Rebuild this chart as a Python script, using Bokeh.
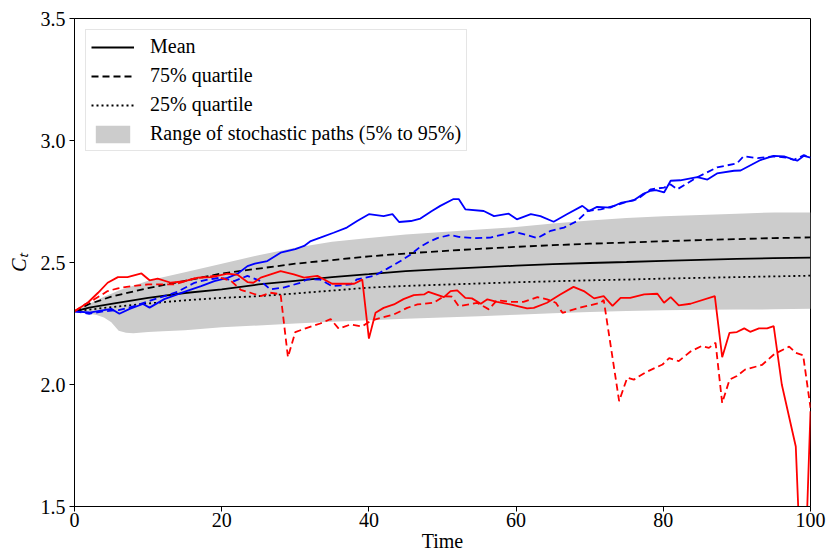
from bokeh.plotting import figure
from bokeh.models import Range1d, Legend, LegendItem, FixedTicker
from bokeh.embed import file_html
from bokeh.resources import INLINE

# ---- data ----
stat_t = [0, 2, 5, 10, 15, 20, 25, 30, 35, 40, 45, 50, 55, 60, 65, 70, 75, 80, 85, 90, 95, 100]
mean_v = [2.30, 2.315, 2.33, 2.355, 2.375, 2.39, 2.41, 2.425, 2.44, 2.452, 2.465, 2.473, 2.48, 2.487,
          2.493, 2.498, 2.502, 2.507, 2.511, 2.515, 2.518, 2.52]
q75_v = [2.30, 2.33, 2.36, 2.395, 2.425, 2.455, 2.475, 2.495, 2.51, 2.525, 2.537, 2.547, 2.556, 2.564,
         2.571, 2.577, 2.582, 2.587, 2.592, 2.596, 2.600, 2.603]
q25_v = [2.30, 2.307, 2.317, 2.332, 2.345, 2.355, 2.362, 2.373, 2.385, 2.397, 2.404, 2.409, 2.414, 2.419,
         2.423, 2.427, 2.43, 2.434, 2.437, 2.44, 2.443, 2.446]

band_t = [0, 1, 2, 3, 4, 5, 6, 7, 8, 10, 12, 15, 20, 25, 30, 35, 40, 45, 50, 55, 60, 65, 70, 75, 80,
          85, 90, 95, 100]
band_hi = [2.30, 2.315, 2.33, 2.345, 2.36, 2.372, 2.385, 2.395, 2.405, 2.425, 2.44, 2.46, 2.495, 2.53,
           2.56, 2.585, 2.60, 2.615, 2.625, 2.635, 2.645, 2.66, 2.672, 2.682, 2.69, 2.695, 2.70, 2.705, 2.705]
band_lo = [2.30, 2.295, 2.29, 2.285, 2.275, 2.255, 2.22, 2.212, 2.21, 2.215, 2.218, 2.222, 2.235, 2.242,
           2.25, 2.257, 2.263, 2.269, 2.275, 2.28, 2.286, 2.292, 2.297, 2.301, 2.304, 2.306, 2.307, 2.308, 2.31]

blue_solid_t = [0, 2, 4, 5, 6.1, 7.5, 9.3, 10.2, 12.2, 13.6, 15.4, 17.2, 19, 20.8, 22.2, 23.5, 24.5, 26.2,
                28, 30, 31.2, 32.1, 33.4, 35.2, 37, 38.4, 40, 42, 43.2, 44.1, 45.7, 47, 48.5, 49.7, 51.5,
                52.2, 53.1, 55.6, 57, 59, 60.1, 62, 63.3, 65.1, 66.9, 69, 69.9, 71, 72.8, 74.2, 76, 77.2,
                78.3, 79, 80.1, 81, 82.3, 84.6, 86, 87.3, 89.6, 90.5, 93.2, 95, 96.4, 98.2, 99.1, 100]
blue_solid_v = [2.30, 2.295, 2.305, 2.31, 2.29, 2.31, 2.33, 2.315, 2.35, 2.365, 2.385, 2.403, 2.424, 2.437,
                2.455, 2.485, 2.495, 2.506, 2.54, 2.555, 2.568, 2.588, 2.602, 2.622, 2.643, 2.67, 2.698,
                2.69, 2.698, 2.666, 2.67, 2.68, 2.71, 2.732, 2.76, 2.76, 2.718, 2.711, 2.69, 2.70, 2.677,
                2.698, 2.69, 2.667, 2.698, 2.732, 2.711, 2.728, 2.725, 2.744, 2.755, 2.78, 2.794, 2.797,
                2.787, 2.835, 2.837, 2.85, 2.84, 2.865, 2.876, 2.877, 2.92, 2.937, 2.935, 2.917, 2.937, 2.93]

blue_dash_t = [0, 2, 4, 6, 8, 10.4, 12, 14, 16.3, 18.1, 19.9, 21.7, 23.5, 25.3, 26.6, 28.4, 30.7, 31.6,
               33.4, 35, 37.5, 38.4, 40.7, 42.5, 44.3, 45.7, 47, 48.2, 49.3, 51, 52.2, 54.3, 56.5, 59.7,
               61, 62.9, 64.7, 66.5, 68.3, 69.7, 71.5, 73.3, 75, 76.5, 78.3, 80.1, 81, 81.9, 84.6, 87.3,
               90, 90.9, 92.8, 95, 96.8, 97.7, 99.1, 100]
blue_dash_v = [2.30, 2.29, 2.30, 2.305, 2.32, 2.345, 2.36, 2.38, 2.417, 2.43, 2.438, 2.424, 2.445, 2.424,
               2.39, 2.397, 2.417, 2.431, 2.43, 2.403, 2.41, 2.431, 2.445, 2.475, 2.506, 2.533, 2.565,
               2.585, 2.60, 2.613, 2.605, 2.60, 2.602, 2.626, 2.616, 2.60, 2.63, 2.643, 2.67, 2.711, 2.718,
               2.732, 2.748, 2.76, 2.80, 2.807, 2.82, 2.80, 2.849, 2.89, 2.906, 2.935, 2.928, 2.935, 2.93,
               2.92, 2.94, 2.93]

red_solid_t = [0, 1.8, 3.2, 4.5, 5.9, 7.2, 9.1, 10.2, 11.3, 13.1, 15, 16.8, 18.6, 20.8, 22.2, 23.5, 24.3,
               25.3, 28, 29.8, 31.2, 33, 35, 38, 39.1, 40, 40.9, 42, 43.4, 44.7, 46.1, 47.5, 48.1, 50.2,
               51.1, 52, 53.1, 54, 55.2, 56.1, 57.4, 59.2, 61.5, 62.4, 64.2, 66, 67.8, 69.2, 70.6, 71.9,
               73.1, 74.2, 75.5, 77.4, 79.2, 80.1, 81, 82.1, 83.7, 87, 88, 89, 90, 91, 91.8, 93, 94.1, 95,
               96.1, 98, 99, 100]
red_solid_v = [2.30, 2.335, 2.376, 2.417, 2.44, 2.44, 2.455, 2.427, 2.434, 2.417, 2.424, 2.438, 2.44,
               2.454, 2.449, 2.42, 2.417, 2.438, 2.465, 2.451, 2.438, 2.445, 2.413, 2.413, 2.43, 2.188,
               2.294, 2.314, 2.328, 2.35, 2.366, 2.369, 2.38, 2.358, 2.383, 2.386, 2.355, 2.353, 2.331,
               2.349, 2.339, 2.328, 2.312, 2.314, 2.335, 2.369, 2.40, 2.383, 2.353, 2.362, 2.322, 2.355,
               2.355, 2.369, 2.372, 2.335, 2.358, 2.324, 2.331, 2.362, 2.112, 2.212, 2.215, 2.23, 2.216,
               2.23, 2.23, 2.239, 2.0, 1.746, 1.0, 1.89]

red_dash_t = [0, 1.5, 2.7, 4.5, 5.9, 7.7, 10, 13.6, 16.3, 19, 21.3, 22.6, 23.9, 25.3, 26.6, 28, 29, 30,
              31.6, 33.4, 34.8, 35.9, 37.5, 39.1, 40.2, 41.6, 43.4, 45.2, 46.6, 48.8, 50.2, 51.3, 52.2,
              54.7, 56.3, 57.4, 59.2, 61, 62.9, 64.2, 65.4, 66.3, 68.8, 71.5, 71.9, 74, 75.1, 76, 77.6,
              79.9, 80.8, 82.1, 83.7, 85.2, 86.2, 87.1, 88, 89, 90, 91.1, 93.4, 95.1, 97.1, 98, 99, 100]
red_dash_v = [2.30, 2.33, 2.349, 2.383, 2.394, 2.403, 2.41, 2.41, 2.435, 2.445, 2.424, 2.388, 2.376,
              2.362, 2.376, 2.37, 2.112, 2.215, 2.232, 2.25, 2.268, 2.229, 2.246, 2.238, 2.26, 2.273,
              2.287, 2.314, 2.328, 2.335, 2.362, 2.36, 2.321, 2.335, 2.308, 2.345, 2.339, 2.339, 2.358,
              2.349, 2.335, 2.294, 2.316, 2.335, 2.347, 1.932, 2.028, 2.02, 2.05, 2.082, 2.108, 2.096,
              2.135, 2.158, 2.15, 2.171, 1.924, 2.02, 2.035, 2.061, 2.08, 2.125, 2.155, 2.13, 2.12, 1.904]

x_ticks = [0, 20, 40, 60, 80, 100]
y_ticks = [1.5, 2.0, 2.5, 3.0, 3.5]

FONT = "Liberation Serif"

p = figure(width=827, height=556, output_backend="svg", toolbar_location=None,
           x_range=Range1d(0, 100), y_range=Range1d(1.5, 3.5),
           min_border_left=74, min_border_right=17, min_border_top=18, min_border_bottom=50)
p.background_fill_color = "white"
p.border_fill_color = "white"
p.outline_line_color = "black"
p.outline_line_width = 1
p.grid.visible = False

# band
band = p.varea(x=band_t, y1=band_lo, y2=band_hi, fill_color="#cccccc", fill_alpha=1.0)

# statistics
r_mean = p.line(stat_t, mean_v, line_color="black", line_width=1.8)
r_q75 = p.line(stat_t, q75_v, line_color="black", line_width=1.8, line_dash="7 4")
r_q25 = p.line(stat_t, q25_v, line_color="black", line_width=1.8, line_dash="2 3")

# stochastic paths
p.line(blue_solid_t, blue_solid_v, line_color="blue", line_width=1.8)
p.line(blue_dash_t, blue_dash_v, line_color="blue", line_width=1.8, line_dash="7 4")
p.line(red_solid_t, red_solid_v, line_color="red", line_width=1.8)
p.line(red_dash_t, red_dash_v, line_color="red", line_width=1.8, line_dash="7 4")

# axes
for ax in (p.xaxis[0], p.yaxis[0]):
    ax.major_tick_in = 0
    ax.major_tick_out = 5
    ax.minor_tick_line_color = None
    ax.axis_line_color = "black"
    ax.major_tick_line_color = "black"
    ax.major_label_text_font = FONT
    ax.major_label_text_font_size = "20px"
    ax.major_label_text_color = "black"
    ax.axis_label_text_font = FONT
    ax.axis_label_text_font_size = "20px"
    ax.axis_label_text_color = "black"
    ax.axis_label_text_font_style = "normal"

p.xaxis.ticker = FixedTicker(ticks=x_ticks)
p.yaxis.ticker = FixedTicker(ticks=y_ticks)
p.yaxis.major_label_overrides = {1.5: "1.5", 2.0: "2.0", 2.5: "2.5", 3.0: "3.0", 3.5: "3.5"}
p.xaxis.major_label_standoff = 1
p.xaxis.axis_label = "Time"
p.xaxis.axis_label_standoff = 0
p.yaxis.major_label_standoff = 4
p.yaxis.axis_label = "Cₜ"
p.yaxis.axis_label_text_font_style = "italic"
p.yaxis.axis_label_standoff = 8

legend = Legend(items=[
    LegendItem(label="Mean", renderers=[r_mean]),
    LegendItem(label="75% quartile", renderers=[r_q75]),
    LegendItem(label="25% quartile", renderers=[r_q25]),
    LegendItem(label="Range of stochastic paths (5% to 95%)", renderers=[band]),
], location="top_left")
legend.margin = 11
legend.padding = 5
legend.spacing = 6
legend.glyph_width = 43
legend.glyph_height = 22
legend.label_height = 22
legend.label_standoff = 16
legend.label_text_font = FONT
legend.label_text_font_size = "20px"
legend.label_text_color = "black"
legend.border_line_color = "#cccccc"
legend.border_line_width = 1
legend.background_fill_color = "white"
legend.background_fill_alpha = 0.8
p.add_layout(legend)

open("out.html", "w").write(file_html(p, INLINE))
